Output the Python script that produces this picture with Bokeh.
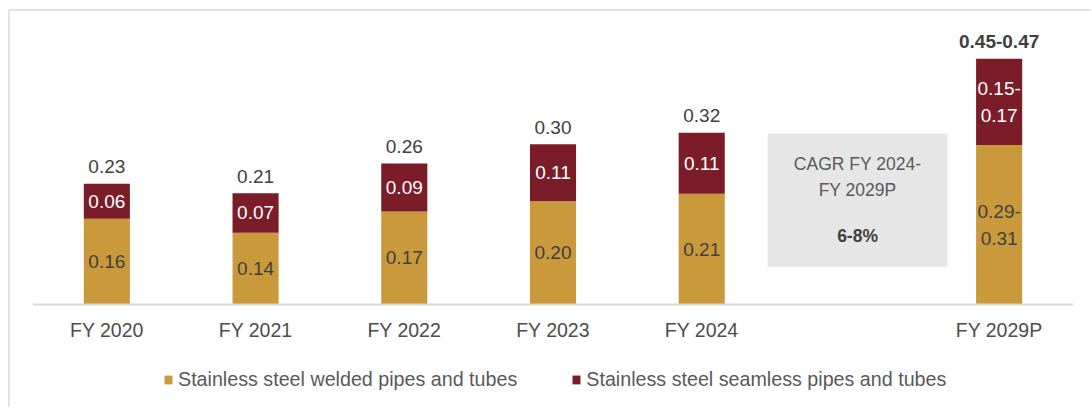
from bokeh.plotting import figure
from bokeh.models import ColumnDataSource, FactorRange, Range1d, Legend, LegendItem, Span
from bokeh.transform import dodge
from bokeh.core.properties import value
from bokeh.embed import file_html
from bokeh.resources import INLINE

# ---------------- data ----------------
years = ["FY 2020", "FY 2021", "FY 2022", "FY 2023", "FY 2024", "FY 2029P"]
gap_slot = " "
welded = [0.161, 0.135, 0.175, 0.194, 0.208, 0.300]
seamless = [0.066, 0.074, 0.090, 0.107, 0.115, 0.162]
welded_labels = ["0.16", "0.14", "0.17", "0.20", "0.21", "0.29-\n0.31"]
seamless_labels = ["0.06", "0.07", "0.09", "0.11", "0.11", "0.15-\n0.17"]
total_labels = ["0.23", "0.21", "0.26", "0.30", "0.32", "0.45-0.47"]
total_styles = ["normal", "normal", "normal", "normal", "normal", "bold"]
series_names = ["Stainless steel welded pipes and tubes",
                "Stainless steel seamless pipes and tubes"]
cagr_title = "CAGR FY 2024-\nFY 2029P"
cagr_value = "6-8%"
cagr_low, cagr_high = 0.071, 0.321

# ---------------- styles ----------------
GOLD = "#C9993B"
MAROON = "#7B1D29"
DARK = "#404040"
FONT = "Liberation Sans"

factors = years[:5] + [gap_slot] + years[5:]

totals = [w + s for w, s in zip(welded, seamless)]
src = ColumnDataSource(dict(
    year=years, welded=welded, seamless=seamless,
    wmid=[w / 2 for w in welded],
    smid=[w + s / 2 for w, s in zip(welded, seamless)],
    total=totals, base=[0.0] * len(years),
    wlab=welded_labels, slab=seamless_labels, tlab=total_labels, tstyle=total_styles,
))

p = figure(x_range=FactorRange(factors=factors, range_padding=0),
           y_range=Range1d(-0.1974, 0.5338),
           width=1082, height=398,
           x_axis_location=None, y_axis_location=None,
           output_backend="svg", toolbar_location=None,
           min_border_left=22, min_border_right=19,
           min_border_top=9, min_border_bottom=0)
p.styles = {"margin-left": "8px", "margin-top": "9px",
            "border-top": "2px solid #e3e3e3", "border-left": "2px solid #e3e3e3"}
p.outline_line_color = None
p.grid.visible = False
p.background_fill_color = "white"
p.border_fill_color = "white"

bars = p.vbar_stack(["welded", "seamless"], x="year", width=0.31, source=src,
                    fill_color=[GOLD, MAROON], line_color=None)

# baseline (category axis line)
p.add_layout(Span(location=0, dimension="width", line_color="#D9D9D9", line_width=2))

# category labels
p.text(x="year", y="base", text="year", source=src, text_align="center",
       text_baseline="middle", y_offset=26, text_font=value(FONT),
       text_font_size="19.5px", text_color="#4D4D4D")

# CAGR box
box_src = ColumnDataSource(dict(x=[gap_slot], title=[cagr_title], val=[cagr_value],
                                mid=[(cagr_low + cagr_high) / 2], top=[cagr_high],
                                h=[cagr_high - cagr_low]))
bx = dodge("x", 0.048, range=p.x_range)
p.rect(x=bx, y="mid", width=1.21, height="h", source=box_src,
       fill_color="#E6E6E6", line_color=None)
p.text(x=bx, y="top", text="title", source=box_src,
       text_align="center", text_baseline="top", y_offset=20,
       text_font=value(FONT), text_font_size="17.5px", text_color="#595959",
       text_line_height=1.3)
p.text(x=bx, y="top", text="val", source=box_src,
       text_align="center", text_baseline="middle", y_offset=102,
       text_font=value(FONT), text_font_size="17.5px", text_font_style="bold",
       text_color="#404040")

# value labels
p.text(x="year", y="wmid", text="wlab", source=src, text_align="center",
       text_baseline="middle", text_font=value(FONT), text_font_size="19px",
       text_color=DARK, text_line_height=1.27)
p.text(x="year", y="smid", text="slab", source=src, text_align="center",
       text_baseline="middle", text_font=value(FONT), text_font_size="19px",
       text_color="white", text_line_height=1.27)
p.text(x="year", y="total", text="tlab", source=src, text_align="center",
       text_baseline="middle", y_offset=-17, text_font=value(FONT),
       text_font_size="19px", text_font_style={"field": "tstyle"}, text_color=DARK)

legend = Legend(items=[LegendItem(label=series_names[0], renderers=[bars[0]]),
                       LegendItem(label=series_names[1], renderers=[bars[1]])],
                orientation="horizontal", location=(131, 18),
                glyph_width=10, glyph_height=11, label_standoff=5, spacing=54,
                padding=0, margin=0, border_line_color=None,
                background_fill_alpha=0,
                label_text_font=FONT, label_text_font_size="19.7px",
                label_text_color="#595959")
p.add_layout(legend, "center")

open("out.html", "w").write(file_html(p, INLINE))
